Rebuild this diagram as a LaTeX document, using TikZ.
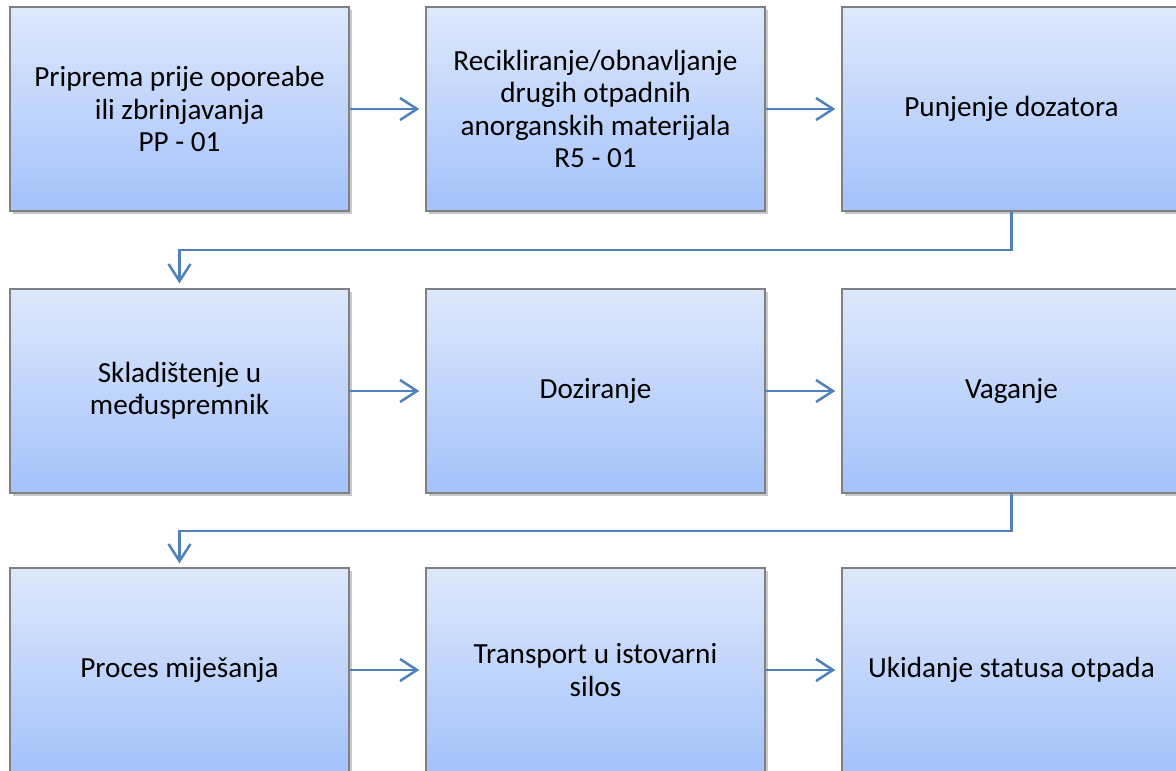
\documentclass[tikz,border=0pt]{standalone}
\usepackage{fontspec}
\setmainfont{Carlito}
\usetikzlibrary{arrows.meta,shadows}
\definecolor{arrowblue}{RGB}{79,129,189}
\definecolor{boxtop}{RGB}{222,232,252}
\definecolor{boxbot}{RGB}{163,194,250}
\definecolor{boxline}{RGB}{128,128,128}
\begin{document}
\begin{tikzpicture}[x=1pt,y=-1pt,
  box/.style={draw=boxline, line width=1.4pt, top color=boxtop, bottom color=boxbot,
    minimum width=339pt, minimum height=204pt, inner sep=0pt, align=center,
    font=\fontsize{29.2}{32.3}\selectfont,
    drop shadow={shadow xshift=2.5pt, shadow yshift=-2.5pt, opacity=0.35, fill=black!60}},
  arr/.style={draw=arrowblue, line width=2.5pt,
    -{Straight Barb[length=17pt,width=22pt,line width=2.5pt]}}]
\useasboundingbox (0,0) rectangle (1176,771);
\clip (0,0) rectangle (1176,771);
\fill[white] (0,0) rectangle (1176,771);
% row 1
\node[box] (b1) at (179.5,109) {Priprema prije oporeabe\\ili zbrinjavanja\\PP - 01};
\node[box] (b2) at (595.5,109) {Recikliranje/obnavljanje\\drugih otpadnih\\anorganskih materijala\\R5 - 01};
\node[box] (b3) at (1011.5,109) {Punjenje dozatora};
% row 2
\node[box] (b4) at (179.5,391) {Skladištenje u\\međuspremnik};
\node[box] (b5) at (595.5,391) {Doziranje};
\node[box] (b6) at (1011.5,391) {Vaganje};
% row 3
\node[box] (b7) at (179.5,670) {Proces miješanja};
\node[box] (b8) at (595.5,670) {Transport u istovarni\\silos};
\node[box] (b9) at (1011.5,670) {Ukidanje statusa otpada};
% connectors
\draw[arr, shorten >=6pt] (b1.east) -- (b2.west);
\draw[arr, shorten >=6pt] (b2.east) -- (b3.west);
\draw[arr, shorten >=6pt] (b4.east) -- (b5.west);
\draw[arr, shorten >=6pt] (b5.east) -- (b6.west);
\draw[arr, shorten >=6pt] (b7.east) -- (b8.west);
\draw[arr, shorten >=6pt] (b8.east) -- (b9.west);
\coordinate (m1) at (1011.5,250);
\coordinate (m2) at (1011.5,531);
\draw[arr, shorten >=5pt] (b3.south) -- (m1) -| (b4.north);
\draw[arr, shorten >=4pt] (b6.south) -- (m2) -| (b7.north);
\end{tikzpicture}
\end{document}
